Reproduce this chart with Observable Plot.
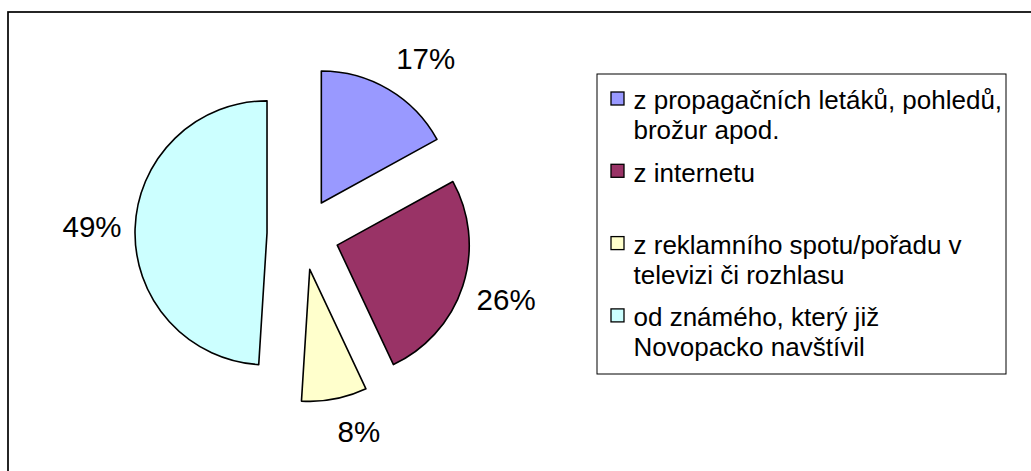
<!DOCTYPE html>
<html><head><meta charset="utf-8">
<script src="https://cdn.jsdelivr.net/npm/d3@7"></script>
<script src="https://cdn.jsdelivr.net/npm/@observablehq/plot@0.6"></script>
<style>html,body{margin:0;padding:0;background:#fff}</style>
</head><body><div id="chart"></div>
<script>
// ---- data ----
const categories = [
  "z propagačních letáků, pohledů, brožur apod.",
  "z internetu",
  "z reklamního spotu/pořadu v televizi či rozhlasu",
  "od známého, který již Novopacko navštívil"
];
const legendLines = [
  ["z propagačních letáků, pohledů,", "brožur apod."],
  ["z internetu"],
  ["z reklamního spotu/pořadu v", "televizi či rozhlasu"],
  ["od známého, který již", "Novopacko navštívil"]
];
const values = [17, 26, 8, 49];
const percentLabels = ["17%", "26%", "8%", "49%"];
const colors = ["#9999FF", "#993366", "#FFFFCC", "#CCFFFF"];

// ---- layout ----
const W = 1031, H = 471;
const cx = 303, cy = 234, R = 132, explode = 36;
const labelRx = 146, labelRy = 155, labelFs = 29.5;
const legendFs = 26, legendLH = 30;
const legendX = 611, legendTextX = 633, legendTop = 106, legendStep = 72.3;

const data = categories.map((c, i) => ({category: c, value: values[i], label: percentLabels[i], legend: legendLines[i].join("\n"), i}));
const arcs = d3.pie().sort(null).value(d => d.value)(data);
const clamp = v => Math.max(-1, Math.min(1, v));
arcs.forEach(a => {
  const m = (a.startAngle + a.endAngle) / 2;
  a.mid = m;
  a.ox = cx + explode * Math.sin(m);
  a.oy = cy - explode * Math.cos(m);
  const w = (a.data.label.length - 1) * 0.556 * labelFs + 0.889 * labelFs;
  const h = 0.716 * labelFs;
  a.lx = a.ox + labelRx * Math.sin(m) + (w / 2) * clamp(6 * Math.sin(m));
  a.ly = a.oy - labelRy * Math.cos(m) + (h / 2) * clamp(-2 * Math.cos(m));
});
const labelData = arcs.map(a => ({label: a.data.label, x: a.lx, y: a.ly}));
const legendData = data.map(d => ({...d, base: legendTop + d.i * legendStep}));

function slices(index, scales) {
  const g = d3.create("svg:g");
  const rad = scales.x(R) - scales.x(0);
  const arcGen = d3.arc().innerRadius(0).outerRadius(rad);
  g.selectAll("path").data(arcs).join("path")
    .attr("transform", a => `translate(${scales.x(a.ox)},${scales.y(a.oy)})`)
    .attr("d", arcGen)
    .attr("fill", a => scales.color(a.data.category))
    .attr("stroke", "#000")
    .attr("stroke-width", 1.6)
    .attr("stroke-linejoin", "round");
  return g.node();
}

const chart = Plot.plot({
  width: W, height: H,
  margin: 0,
  x: {domain: [0, W], range: [0, W], axis: null},
  y: {domain: [0, H], range: [0, H], axis: null},
  color: {domain: categories, range: colors},
  style: {fontFamily: "'Liberation Sans', Arial, sans-serif", background: "#fff", overflow: "hidden"},
  marks: [
    Plot.rect([0], {x1: 8, x2: 1045, y1: 12, y2: 490, fill: "none", stroke: "#000", strokeWidth: 1.7}),
    slices,
    Plot.text(labelData, {x: "x", y: "y", text: "label", fontSize: labelFs, fill: "#000", textAnchor: "middle", lineAnchor: "middle"}),
    Plot.rect([0], {x1: 597, x2: 1006, y1: 74, y2: 374, fill: "none", stroke: "#000", strokeWidth: 1}),
    Plot.rect(legendData, {x1: legendX, x2: legendX + 13, y1: d => d.base - 14, y2: d => d.base - 1, fill: "category", stroke: "#000", strokeWidth: 1.3}),
    Plot.text(legendData, {x: legendTextX, y: d => d.base - 0.71 * legendFs, text: "legend", fontSize: legendFs, lineHeight: legendLH / legendFs, textAnchor: "start", lineAnchor: "top", fill: "#000"})
  ]
});
document.getElementById("chart").appendChild(chart);
</script>
</body></html>
